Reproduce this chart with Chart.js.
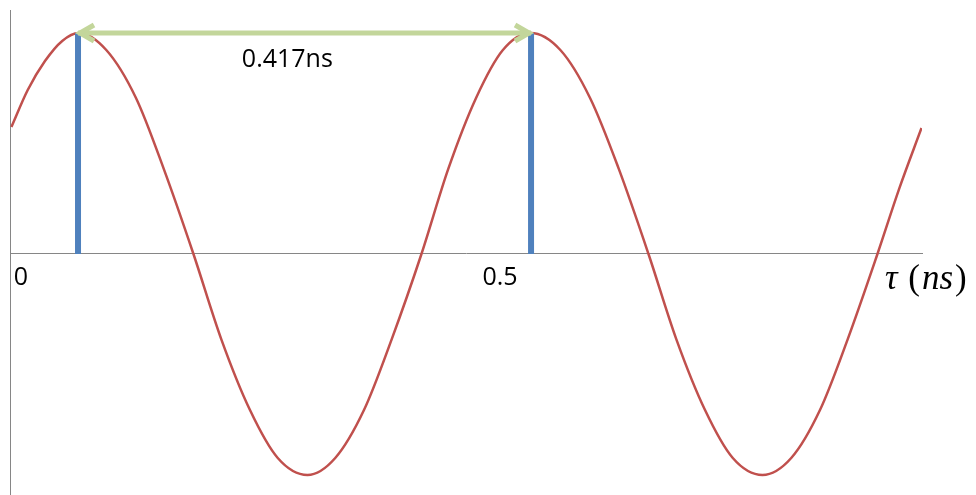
<!DOCTYPE html>
<html>
<head>
<meta charset="utf-8">
<script src="https://cdn.jsdelivr.net/npm/chart.js@4"></script>
<style>
  html, body { margin: 0; padding: 0; background: #fff; }
  #wrap { width: 976px; height: 495px; }
</style>
</head>
<body>
<div id="wrap"><canvas id="delay-chart"></canvas></div>
<script>
// values (time in ns, signal normalised to its peak)
const tauNs = [-0.010, 0.007, 0.025, 0.043, 0.060, 0.089, 0.120, 0.149, 0.180, 0.209,
               0.239, 0.268, 0.299, 0.328, 0.358, 0.387, 0.418, 0.446, 0.475, 0.503,
               0.532, 0.563, 0.594, 0.624, 0.655, 0.684, 0.714, 0.743, 0.774, 0.804,
               0.834, 0.863, 0.894, 0.917, 0.940];
const signal = [0.575, 0.742, 0.873, 0.964, 1.000, 0.923, 0.706, 0.385, 0.000, -0.385,
                -0.706, -0.923, -1.000, -0.923, -0.706, -0.385, 0.000, 0.385, 0.706, 0.923,
                1.000, 0.923, 0.706, 0.385, 0.000, -0.385, -0.706, -0.923, -1.000, -0.923,
                -0.706, -0.385, 0.000, 0.299, 0.570];
const peakTimes = [0.0595, 0.5324];
const tickValues = [0, 0.5];
const periodLabel = '0.417ns';
// axis title pieces: [text, italic?]
const axisTitle = [['τ', true], [' (', false], ['ns', true], [')', false]];

const ctx = document.querySelector('#delay-chart');

const wave = tauNs.map((t, i) => ({ x: t, y: signal[i] }));
const markers = peakTimes.map(t => ({
    data: [{ x: t, y: 0 }, { x: t, y: 1 }],
    borderColor: '#4F81BD',
    borderWidth: 6,
    pointRadius: 0,
    borderCapStyle: 'butt',
    order: 1,
}));

// arrow heads, the period label and the axis title
const annotate = {
    id: 'annotate',
    afterDatasetsDraw(chart) {
        const c = chart.ctx;
        const xs = chart.scales.x, ys = chart.scales.y;
        const pts = chart.getDatasetMeta(0).data;
        const a = pts[0], b = pts[pts.length - 1];
        c.save();
        c.strokeStyle = '#C3D69B';
        c.lineWidth = 5;
        c.lineJoin = 'miter';
        [[a, 1], [b, -1]].forEach(([p, dir]) => {
            c.beginPath();
            c.moveTo(p.x + dir * 16, p.y - 8);
            c.lineTo(p.x + dir * 2, p.y);
            c.lineTo(p.x + dir * 16, p.y + 8);
            c.stroke();
        });
        c.fillStyle = '#000';
        c.font = '25px "Open Sans"';
        c.textAlign = 'center';
        c.textBaseline = 'middle';
        c.fillText(periodLabel, xs.getPixelForValue(0.278), ys.getPixelForValue(0.88));

        c.textAlign = 'left';
        c.textBaseline = 'alphabetic';
        let tx = xs.right - 37;
        const ty = ys.getPixelForValue(0) + 35;
        axisTitle.forEach(([s, it]) => {
            c.font = (it ? 'italic ' : '') + '35px "Liberation Serif"';
            c.fillText(s, tx, ty);
            tx += c.measureText(s).width + 2;
        });
        c.restore();
    }
};

new Chart(ctx, {
    type: 'line',
    data: {
        datasets: [
            {
                label: 'period',
                data: peakTimes.map(t => ({ x: t, y: 1 })),
                borderColor: '#C3D69B',
                borderWidth: 5,
                pointRadius: 0,
                order: 0,
            },
            ...markers,
            {
                label: 'signal',
                data: wave,
                borderColor: '#C0504D',
                borderWidth: 2.5,
                pointRadius: 0,
                cubicInterpolationMode: 'monotone',
                order: 2,
            },
        ],
    },
    options: {
        responsive: true,
        maintainAspectRatio: false,
        animation: false,
        layout: { padding: { left: 10, top: 10, right: 54, bottom: 0 } },
        plugins: { legend: { display: false }, tooltip: { enabled: false } },
        scales: {
            x: {
                type: 'linear',
                min: -0.0115,
                max: 0.9405,
                position: { y: 0 },
                grid: { display: false, drawTicks: false },
                border: { display: true, color: '#868686', width: 1 },
                afterBuildTicks: scale => { scale.ticks = tickValues.map(v => ({ value: v })); },
                ticks: {
                    padding: 9,
                    color: '#000',
                    font: { family: 'Open Sans', size: 25 },
                    maxRotation: 0,
                    autoSkip: false,
                    callback: v => String(v),
                },
            },
            y: {
                min: -1.0905,
                max: 1.104,
                grid: { display: false, drawTicks: false },
                border: { display: true, color: '#868686', width: 1 },
                ticks: { display: false },
            },
        },
    },
    plugins: [annotate],
});
</script>
</body>
</html>
